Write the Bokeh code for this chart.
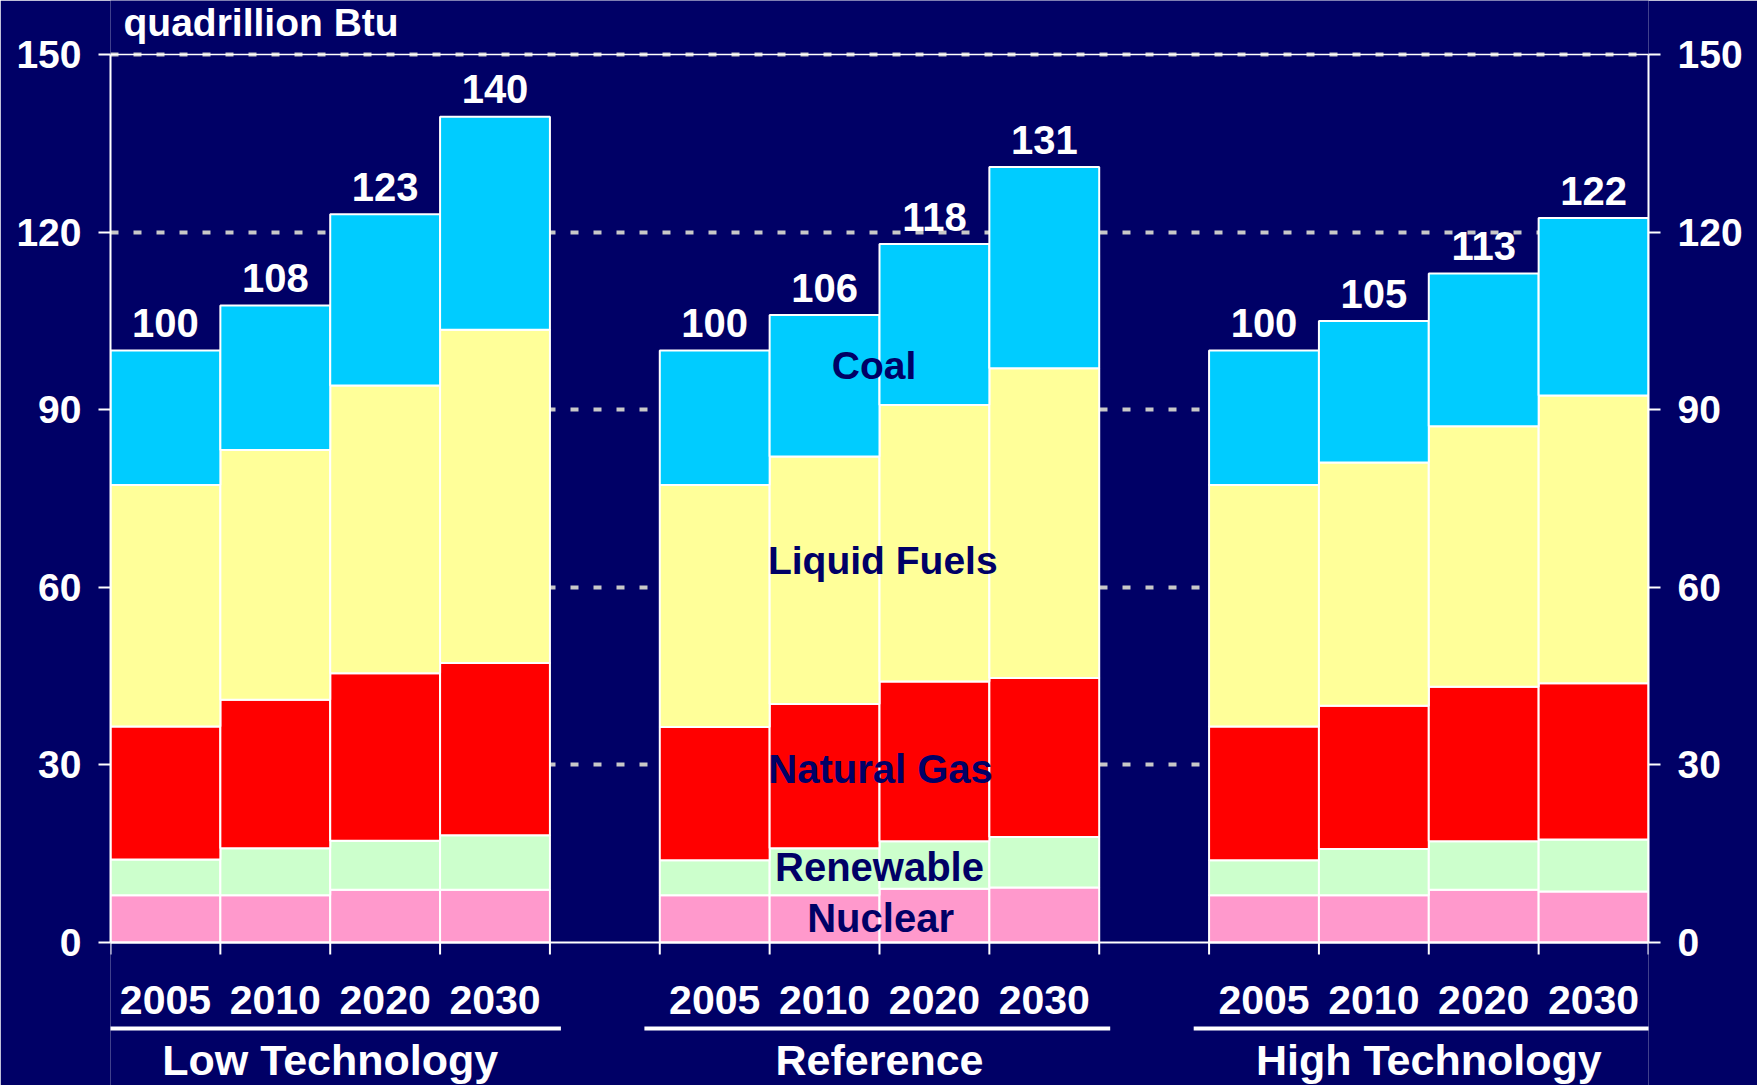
import numpy as np
from bokeh.plotting import figure
from bokeh.models import Range1d, LinearAxis, FixedTicker, ColumnDataSource, Span
from bokeh.core.properties import value
from bokeh.embed import file_html
from bokeh.resources import INLINE

# ---------------- data ----------------
scenarios = ["Low Technology", "Reference", "High Technology"]
years = ["2005", "2010", "2020", "2030"]
fuels = ["Nuclear", "Renewable", "Natural Gas", "Liquid Fuels", "Coal"]

totals_low = [100, 108, 123, 140]
totals_ref = [100, 106, 118, 131]
totals_high = [100, 105, 113, 122]

nuclear_low = [8.0, 8.0, 8.9, 8.9]
renewable_low = [6.0, 7.9, 8.3, 9.2]
gas_low = [22.5, 25.1, 28.3, 29.1]
liquids_low = [40.8, 42.2, 48.6, 56.3]
coal_low = [22.7, 24.4, 28.9, 36.0]

nuclear_ref = [8.0, 8.0, 9.1, 9.3]
renewable_ref = [5.9, 7.9, 8.0, 8.5]
gas_ref = [22.5, 24.4, 27.0, 26.9]
liquids_ref = [40.9, 41.8, 46.7, 52.3]
coal_ref = [22.7, 23.9, 27.2, 34.0]

nuclear_high = [8.0, 8.0, 8.9, 8.6]
renewable_high = [5.9, 7.8, 8.2, 8.8]
gas_high = [22.6, 24.2, 26.1, 26.4]
liquids_high = [40.8, 41.1, 44.0, 48.6]
coal_high = [22.7, 23.9, 25.8, 30.0]

y_ticks = [0, 30, 60, 90, 120, 150]
unit_label = "quadrillion Btu"

# ---------------- layout / styling ----------------
BG = "#000066"
NAVY = "#000066"
FONT = "Liberation Sans"
colors = {"Nuclear": "#FF99CC", "Renewable": "#CCFFCC", "Natural Gas": "#FF0000",
          "Liquid Fuels": "#FFFF99", "Coal": "#00CCFF"}

W, H = 1757, 1085
LEFT, RIGHT = 110, 109          # frame spans x 110..1648
TOP_PX, ZERO_PX = 54, 942       # y=150 and y=0 positions
PPU = (ZERO_PX - TOP_PX) / 150.0
Y_START = -(H - ZERO_PX) / PPU
Y_END = 150 + TOP_PX / PPU
BASE_FIX = 0.38                 # baseline correction (fraction of font size)

def off(size_px, extra=0):
    return -BASE_FIX * size_px + extra

layers = {
    "Nuclear": nuclear_low + nuclear_ref + nuclear_high,
    "Renewable": renewable_low + renewable_ref + renewable_high,
    "Natural Gas": gas_low + gas_ref + gas_high,
    "Liquid Fuels": liquids_low + liquids_ref + liquids_high,
    "Coal": coal_low + coal_ref + coal_high,
}
totals = totals_low + totals_ref + totals_high

GROUP_STEP = 5.0
n_years = len(years)
centers = [g * GROUP_STEP + i + 0.5 for g in range(len(scenarios)) for i in range(n_years)]
edges = [g * GROUP_STEP + i for g in range(len(scenarios)) for i in range(n_years + 1)]
x_end = (len(scenarios) - 1) * GROUP_STEP + n_years
XPX = (W - LEFT - RIGHT) / x_end

p = figure(width=W, height=H, output_backend="svg", toolbar_location=None,
           x_range=Range1d(0, x_end), y_range=Range1d(Y_START, Y_END),
           min_border_left=LEFT, min_border_right=RIGHT, min_border_top=0, min_border_bottom=0,
           background_fill_color=BG, border_fill_color=BG)
p.outline_line_color = None
p.xaxis.visible = False

# top frame line
p.add_layout(Span(location=max(y_ticks), dimension="width", line_color="white",
                  line_width=1.5, level="underlay"))

# grid
p.xgrid.visible = False
p.ygrid.ticker = FixedTicker(ticks=y_ticks[1:])
p.ygrid.grid_line_color = "#C8C8C8"
p.ygrid.grid_line_width = 4
p.ygrid.grid_line_dash = "8 15"

# stacked bars
bottom = np.zeros(len(centers))
for f in fuels:
    vals = np.array(layers[f])
    top = bottom + vals
    p.vbar(x=centers, width=1.0, bottom=bottom, top=top, fill_color=colors[f],
           line_color="white", line_width=2)
    bottom = top

# baseline
p.add_layout(Span(location=0, dimension="width", line_color="white", line_width=2))

# category tick marks along the baseline
tick_len = 12 / PPU
p.segment(x0=edges, y0=[0] * len(edges), x1=edges, y1=[-tick_len] * len(edges),
          line_color="white", line_width=2)

# totals above bars
tot_src = ColumnDataSource(dict(x=centers, y=list(bottom), t=[str(v) for v in totals]))
p.text(x="x", y="y", text="t", source=tot_src, text_align="center",
       text_baseline="alphabetic", y_offset=off(40, -12), text_color="white",
       text_font=value(FONT), text_font_style="bold", text_font_size="40px")

# fuel labels (in the Reference group)
lab_src = ColumnDataSource(dict(
    x=[6.95, 7.03, 7.01, 7.0, 7.01],
    y=[95.0, 62.0, 26.7, 10.2, 1.5],
    t=["Coal", "Liquid Fuels", "Natural Gas", "Renewable", "Nuclear"],
    s=["39px", "39px", "40px", "40px", "40px"],
    o=[off(39), off(39), off(40), off(40), off(40)]))
p.text(x="x", y="y", text="t", source=lab_src, text_align="center",
       text_baseline="alphabetic", y_offset="o", text_color=NAVY, text_font=value(FONT),
       text_font_style="bold", text_font_size="s")

# year labels
yr_src = ColumnDataSource(dict(x=centers, y=[-73 / PPU] * len(centers),
                               t=[years[i % n_years] for i in range(len(centers))]))
p.text(x="x", y="y", text="t", source=yr_src, text_align="center",
       text_baseline="alphabetic", y_offset=off(41), text_color="white",
       text_font=value(FONT), text_font_style="bold", text_font_size="41px")

# group underlines and names
g_start = [g * GROUP_STEP for g in range(len(scenarios))]
ul_y = [-86.0 / PPU] * len(scenarios)
p.segment(x0=[s - 0.14 for s in g_start], x1=[s + n_years + 0.1 for s in g_start],
          y0=ul_y, y1=ul_y, line_color="white", line_width=4)
gl_src = ColumnDataSource(dict(x=[s + n_years / 2 for s in g_start],
                               y=[-133.5 / PPU] * len(scenarios), t=scenarios))
p.text(x="x", y="y", text="t", source=gl_src, text_align="center",
       text_baseline="alphabetic", y_offset=off(43), text_color="white",
       text_font=value(FONT), text_font_style="bold", text_font_size="43px")

# unit label
p.text(x=[13 / XPX], y=[150 + 17 / PPU], text=[unit_label], text_align="left",
       text_baseline="alphabetic", y_offset=off(39), text_color="white",
       text_font=value(FONT), text_font_style="bold", text_font_size="39px")

# y axes
def style_y(ax, standoff):
    ax.ticker = FixedTicker(ticks=y_ticks)
    ax.bounds = (min(y_ticks), max(y_ticks))
    ax.axis_line_color = "white"
    ax.axis_line_width = 2
    ax.major_tick_line_color = "white"
    ax.major_tick_line_width = 2
    ax.major_tick_out = 12
    ax.major_tick_in = 0
    ax.minor_tick_line_color = None
    ax.major_label_standoff = standoff
    ax.major_label_text_color = "white"
    ax.major_label_text_font = FONT
    ax.major_label_text_font_style = "bold"
    ax.major_label_text_font_size = "39px"

style_y(p.yaxis[0], 17)
right_ax = LinearAxis()
style_y(right_ax, 17)
p.add_layout(right_ax, "right")

open("out.html", "w").write(file_html(p, INLINE))
